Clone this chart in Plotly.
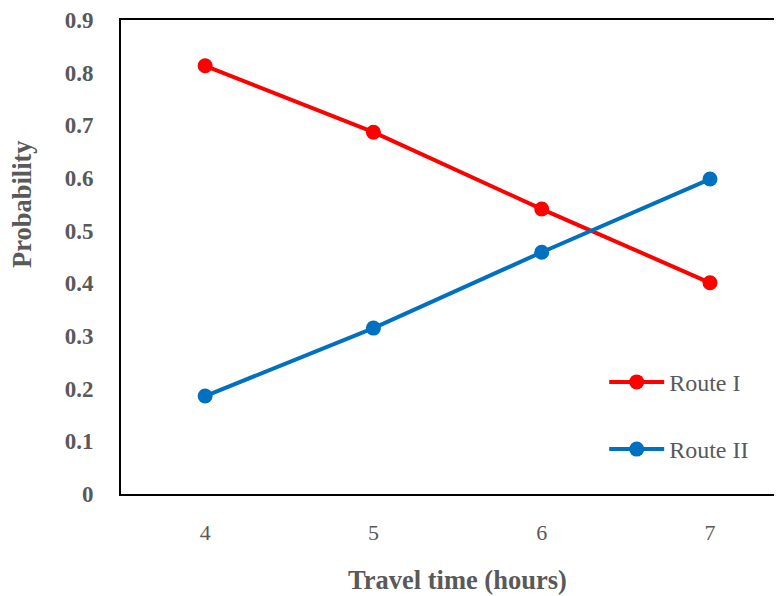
import plotly.graph_objects as go

travel_time = [4, 5, 6, 7]
route_1 = [0.813, 0.687, 0.541, 0.401]
route_2 = [0.186, 0.315, 0.459, 0.598]
y_ticks = [0, 0.1, 0.2, 0.3, 0.4, 0.5, 0.6, 0.7, 0.8, 0.9]
y_labels = ["0", "0.1", "0.2", "0.3", "0.4", "0.5", "0.6", "0.7", "0.8", "0.9"]

FONT = "Liberation Serif, Times New Roman, serif"
GREY = "#595959"

W, H = 774, 588
ML, MT, MB = 113, 12, 102
plot_w = W - ML
plot_h = H - MT - MB

fig = go.Figure()
fig.add_trace(go.Scatter(x=travel_time, y=route_1, name="Route I", mode="lines+markers",
                         line=dict(color="#ff0000", width=4), marker=dict(size=15, color="#ff0000"),
                         legendgroup="a"))
fig.add_trace(go.Scatter(x=travel_time, y=route_2, name="Route II", mode="lines+markers",
                         line=dict(color="#0070c0", width=4), marker=dict(size=15, color="#0070c0"),
                         legendgroup="b"))

fig.add_annotation(text="<b>Travel time (hours)</b>", x=5.5, xref="x",
                   y=(494 - 580) / plot_h, yref="paper",
                   xanchor="center", yanchor="middle", showarrow=False,
                   font=dict(family=FONT, size=26.5, color=GREY))
fig.add_annotation(text="<b>Probability</b>", x=(22 - 121) / plot_w, xref="paper",
                   y=(494 - 204) / plot_h, yref="paper", textangle=-90,
                   xanchor="center", yanchor="middle", showarrow=False,
                   font=dict(family=FONT, size=26.5, color=GREY))

fig.update_layout(
    width=W, height=H,
    margin=dict(l=ML, r=0, t=MT, b=MB),
    plot_bgcolor="white", paper_bgcolor="white",
    font=dict(family=FONT, color=GREY, size=22),
    legend=dict(x=0.731, y=0.165, xanchor="left", yanchor="middle",
                font=dict(family=FONT, size=24, color=GREY),
                tracegroupgap=33, itemwidth=55, bgcolor="rgba(0,0,0,0)"),
    xaxis=dict(range=[3.5, 7 + 72 / 168.3], tickvals=travel_time, ticktext=[str(v) for v in travel_time],
               showgrid=False, zeroline=False, showline=True, linecolor="black", linewidth=2,
               mirror=True, ticks="", ticklabelstandoff=18,
               tickfont=dict(family=FONT, size=22, color=GREY)),
    yaxis=dict(range=[0, 0.9], tickvals=y_ticks, ticktext=["<b>%s</b>" % t for t in y_labels],
               showgrid=False, zeroline=False, showline=True, linecolor="black", linewidth=2,
               ticks="", ticklabelstandoff=21,
               tickfont=dict(family=FONT, size=23, color=GREY)),
)

fig.write_html("out.html")
